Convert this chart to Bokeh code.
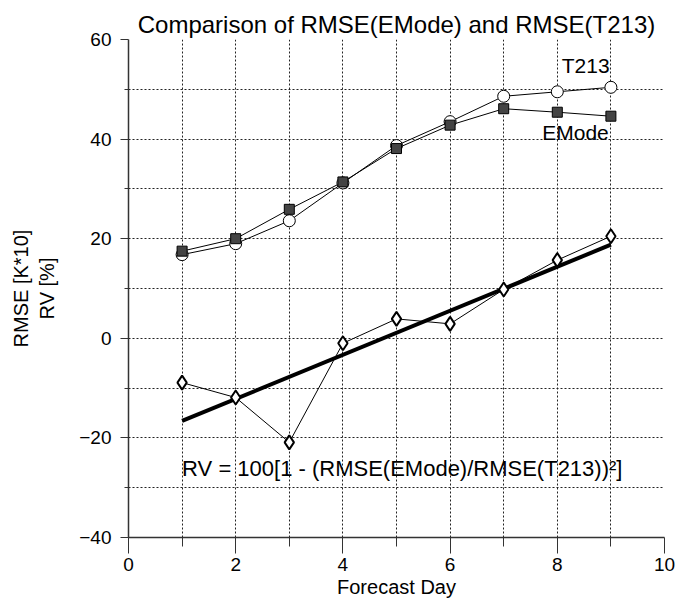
from bokeh.plotting import figure
from bokeh.models import Range1d, FixedTicker, Label
from bokeh.embed import file_html
from bokeh.resources import INLINE

# ---- data ----
days = [1, 2, 3, 4, 5, 6, 7, 8, 9]
rmse_t213 = [16.8, 19.0, 23.6, 31.2, 38.7, 43.5, 48.6, 49.5, 50.4]
rmse_emode = [17.5, 20.0, 25.9, 31.4, 38.1, 42.8, 46.1, 45.4, 44.6]
rv = [-8.9, -11.9, -20.9, -1.0, 3.9, 2.9, 9.8, 15.7, 20.5]
trend_x = [1, 9]
trend_y = [-16.6, 18.8]

x_major = [0, 2, 4, 6, 8, 10]
x_minor = [1, 3, 5, 7, 9]
y_major = [-40, -20, 0, 20, 40, 60]
y_minor = [-30, -10, 10, 30, 50]
x_grid = [1, 2, 3, 4, 5, 6, 7, 8, 9, 10]
y_grid = [-30, -20, -10, 0, 10, 20, 30, 40, 50, 60]

title_text = "Comparison of RMSE(EMode) and RMSE(T213)"
formula_text = "RV = 100[1 - (RMSE(EMode)/RMSE(T213))\u00b2]"

FONT = "Liberation Sans"

p = figure(width=682, height=602, output_backend="svg", toolbar_location=None,
           x_range=Range1d(0, 10), y_range=Range1d(-40, 60),
           min_border_left=128, min_border_right=18, min_border_top=39,
           min_border_bottom=65, title=title_text)

p.outline_line_color = None
p.background_fill_color = "white"
p.border_fill_color = "white"

p.title.text_font = FONT
p.title.text_font_size = "24px"
p.title.text_font_style = "normal"
p.title.text_color = "black"
p.title.align = "center"
p.title.standoff = 4

# grids
for g, ticks in ((p.xgrid, x_grid), (p.ygrid, y_grid)):
    g.ticker = FixedTicker(ticks=ticks)
    g.grid_line_color = "#222222"
    g.grid_line_dash = "2 2"
    g.grid_line_width = 1

# axes
xa = p.xaxis[0]
xa.ticker = FixedTicker(ticks=x_major, minor_ticks=x_minor)
ya = p.yaxis[0]
ya.ticker = FixedTicker(ticks=y_major, minor_ticks=y_minor)
for ax in (xa, ya):
    ax.axis_line_color = "#333333"
    ax.axis_line_width = 1.5
    ax.major_tick_line_color = "#333333"
    ax.minor_tick_line_color = "#333333"
    ax.major_tick_in = 0
    ax.minor_tick_in = 0
    ax.major_label_text_font = FONT
    ax.major_label_text_font_size = "19px"
    ax.major_label_text_color = "black"
    ax.axis_label_text_font = FONT
    ax.axis_label_text_font_size = "20px"
    ax.axis_label_text_font_style = "normal"
    ax.axis_label_text_color = "black"

xa.major_tick_out = 16
xa.minor_tick_out = 9
xa.major_label_standoff = 4
xa.axis_label = "Forecast Day"
xa.axis_label_standoff = 2

ya.major_tick_out = 8
ya.minor_tick_out = 4
ya.major_label_standoff = 9
ya.axis_label = "RMSE [K*10]\nRV [%]"
ya.axis_label_standoff = 18

# series
p.line(trend_x, trend_y, line_color="black", line_width=4)
p.line(days, rmse_t213, line_color="black", line_width=1)
p.line(days, rmse_emode, line_color="black", line_width=1)
p.line(days, rv, line_color="black", line_width=1)

p.scatter(days, rmse_t213, marker="circle", size=12, fill_color="white",
          line_color="black", line_width=1)
p.scatter(days, rmse_emode, marker="square", size=10, fill_color="#444444",
          line_color="black", line_width=1)
p.scatter(days, rv, marker="diamond", size=14, fill_color="white",
          line_color="black", line_width=2)

# annotations
p.add_layout(Label(x=8.53, y=54.7, text="T213", text_font=FONT,
                   text_font_size="21px", text_align="center",
                   text_baseline="middle", text_color="black"))
p.add_layout(Label(x=8.34, y=41.4, text="EMode", text_font=FONT,
                   text_font_size="21px", text_align="center",
                   text_baseline="middle", text_color="black"))
p.add_layout(Label(x=1.0, y=-26.2, text=formula_text, text_font=FONT,
                   text_font_size="22px", text_align="left",
                   text_baseline="middle", text_color="black"))

open("out.html", "w").write(file_html(p, INLINE))
